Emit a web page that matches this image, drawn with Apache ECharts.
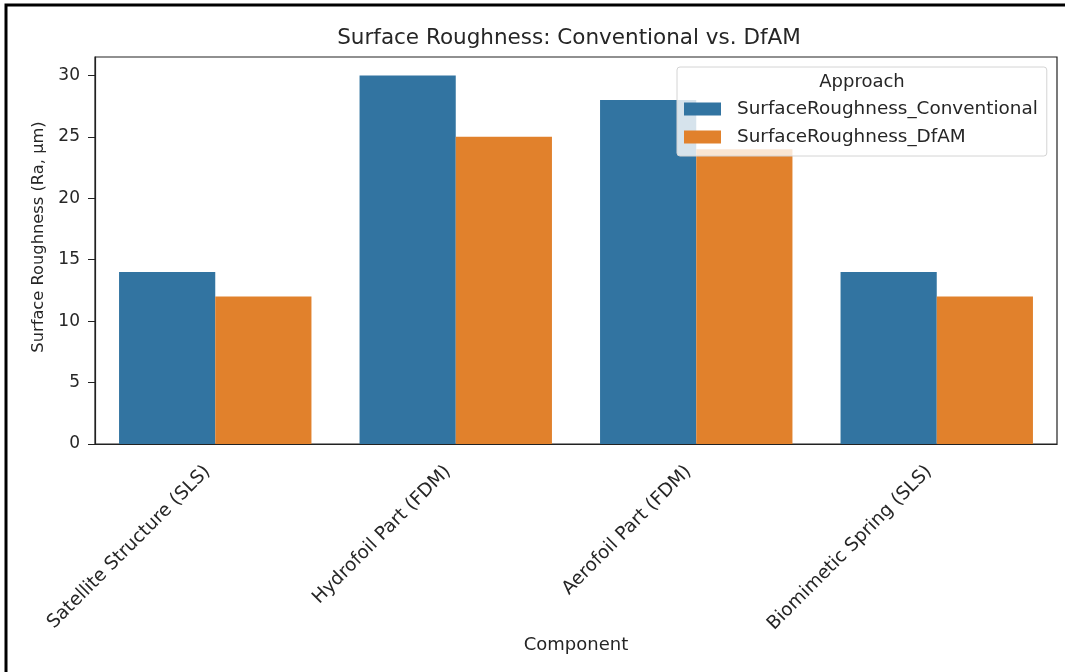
<!DOCTYPE html>
<html>
<head>
<meta charset="utf-8">
<script src="https://cdn.jsdelivr.net/npm/echarts@6/dist/echarts.min.js"></script>
<style>
  html, body { margin: 0; padding: 0; background: #fff; }
  #chart { width: 1065px; height: 672px; }
</style>
</head>
<body>
<div id="chart"></div>
<script>
// data
const components = ['Satellite Structure (SLS)', 'Hydrofoil Part (FDM)', 'Aerofoil Part (FDM)', 'Biomimetic Spring (SLS)']
const conventional = [14, 30, 28, 14]
const dfam = [12, 25, 24, 12]
const yTicks = [0, 5, 10, 15, 20, 25, 30]

const FONT = 'DejaVu Sans'
const TEXT = '#262626'

const chart = echarts.init(document.getElementById('chart'))

chart.setOption({
  animation: false,
  backgroundColor: '#fff',
  textStyle: { fontFamily: FONT },
  grid: {
    left: 95, right: 8, top: 57, bottom: 228,
    show: true, borderColor: '#222', borderWidth: 1.2,
    containLabel: false
  },
  legend: {
    left: 677, top: 67,
    orient: 'vertical',
    padding: [33, 9, 10, 7],
    itemWidth: 37, itemHeight: 13, itemGap: 10,
    backgroundColor: 'rgba(255,255,255,0.8)',
    borderColor: '#d4d4d4', borderWidth: 1, borderRadius: 3,
    icon: 'rect',
    textStyle: { fontFamily: FONT, fontSize: 18.4, color: TEXT, padding: [0, 0, 0, 11] },
    data: ['SurfaceRoughness_Conventional', 'SurfaceRoughness_DfAM']
  },
  graphic: [
    {
      type: 'text', z: 100,
      x: 569, y: 38,
      style: { text: 'Surface Roughness: Conventional vs. DfAM', font: '21.5px "DejaVu Sans"', fill: TEXT, align: 'center', verticalAlign: 'middle' }
    },
    {
      type: 'text', z: 100,
      x: 862, y: 82,
      style: { text: 'Approach', font: '18px "DejaVu Sans"', fill: TEXT, align: 'center', verticalAlign: 'middle' }
    },
    {
      // y axis title
      type: 'text', z: 100,
      x: 39, y: 237, rotation: Math.PI / 2,
      style: { text: 'Surface Roughness (Ra, μm)', font: '16.3px "DejaVu Sans"', fill: TEXT, align: 'center', verticalAlign: 'middle' }
    },
    {
      // x axis title
      type: 'text', z: 100,
      x: 576, y: 645,
      style: { text: 'Component', font: '18px "DejaVu Sans"', fill: TEXT, align: 'center', verticalAlign: 'middle' }
    },
    {
      // figure frame, only top and left edges visible
      type: 'rect', z: 100, silent: true,
      shape: { x: 6, y: 5, width: 1200, height: 800 },
      style: { fill: 'none', stroke: '#000', lineWidth: 3 }
    }
  ],
  xAxis: {
    type: 'category',
    data: components,
    axisLine: { lineStyle: { color: '#222', width: 1.2 } },
    axisTick: { alignWithLabel: true, length: 7, lineStyle: { color: '#222' } },
    axisLabel: {
      rotate: 45, margin: 17, padding: [0, 11, 0, 0],
      fontFamily: FONT, fontSize: 18.5, color: TEXT, interval: 0
    }
  },
  yAxis: {
    type: 'value',
    min: 0, max: 31.5,
    axisLine: { show: true, lineStyle: { color: '#222', width: 1.2 } },
    axisTick: { show: true, length: 7, customValues: yTicks, lineStyle: { color: '#222' } },
    axisLabel: { margin: 15, fontFamily: FONT, fontSize: 17, color: TEXT, customValues: yTicks },
    splitLine: { show: false }
  },
  series: [
    {
      name: 'SurfaceRoughness_Conventional',
      type: 'bar',
      data: conventional,
      barGap: '0%',
      barCategoryGap: '20%',
      itemStyle: { color: '#3274a1' }
    },
    {
      name: 'SurfaceRoughness_DfAM',
      type: 'bar',
      data: dfam,
      barGap: '0%',
      barCategoryGap: '20%',
      itemStyle: { color: '#e1812c' }
    }
  ]
})
</script>
</body>
</html>
